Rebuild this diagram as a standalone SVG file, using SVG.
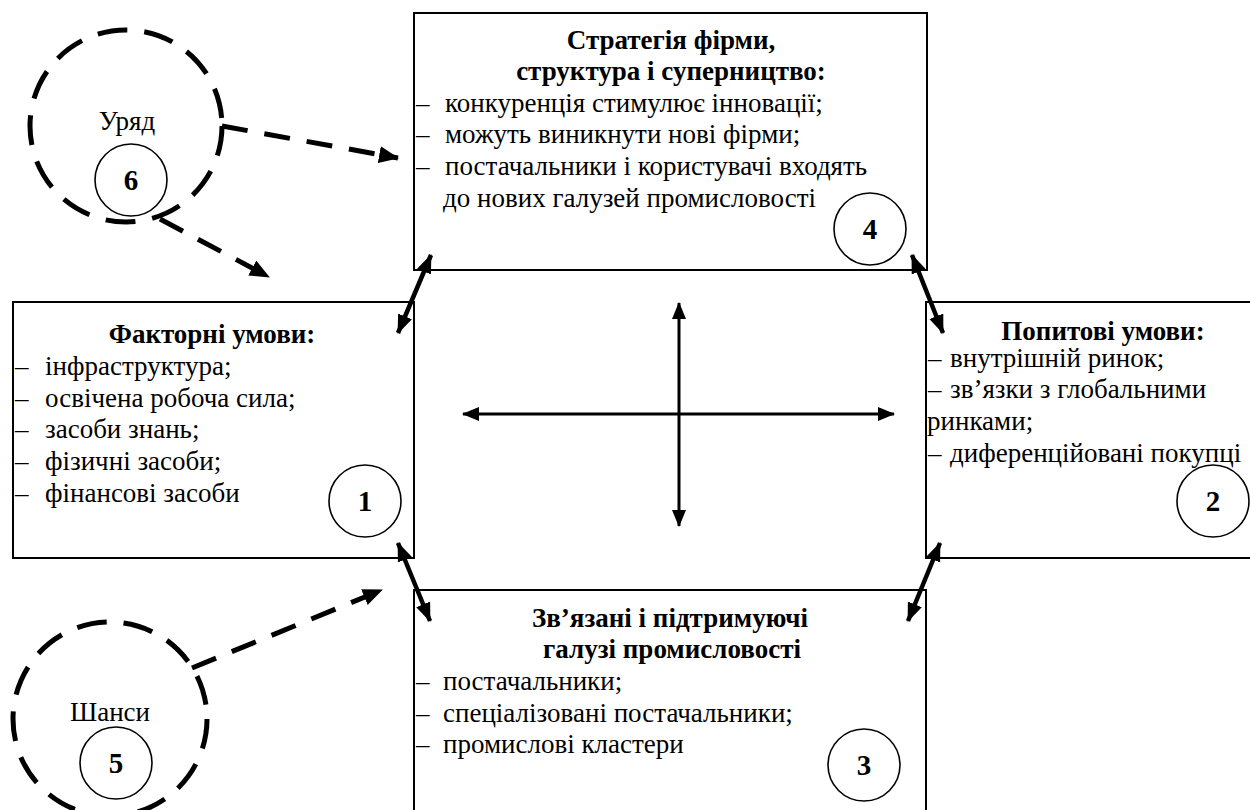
<svg xmlns="http://www.w3.org/2000/svg" width="1250" height="810" viewBox="0 0 1250 810">
<style>
.box{fill:#fff;stroke:#000;stroke-width:2}
.t{font-size:27px;fill:#000}
.b{font-weight:bold}
.m{text-anchor:middle}
.num{font-size:29px;font-weight:bold;text-anchor:middle;fill:#000}
.nc{fill:none;stroke:#000;stroke-width:1.6}
.dc{fill:none;stroke:#000;stroke-width:5;stroke-dasharray:30 17}
.da{fill:none;stroke:#000;stroke-width:5;stroke-dasharray:26 17}
.sa{stroke:#000;stroke-width:4.5;fill:none}
.ca{stroke:#000;stroke-width:3;fill:none}
</style>
<defs>
<marker id="hd" markerUnits="userSpaceOnUse" markerWidth="20" markerHeight="18" refX="19" refY="8.5" orient="auto-start-reverse" viewBox="0 0 20 18"><path d="M0,0 L20,8.5 L0,17 z" fill="#000"/></marker>
<marker id="hs" markerUnits="userSpaceOnUse" markerWidth="19" markerHeight="16" refX="18" refY="7.5" orient="auto-start-reverse" viewBox="0 0 19 16"><path d="M0,0 L19,7.5 L0,15 z" fill="#000"/></marker>
<marker id="hc" markerUnits="userSpaceOnUse" markerWidth="17" markerHeight="15" refX="16" refY="7" orient="auto-start-reverse" viewBox="0 0 17 15"><path d="M0,0 L17,7 L0,14 z" fill="#000"/></marker>
</defs>
<g font-family="Liberation Serif, DejaVu Serif, serif">
<g id="node-strategy">
<rect class="box" x="414" y="13" width="513" height="257"/>
<text class="t b m" x="671" y="49">Стратегія фірми,</text>
<text class="t b m" x="671" y="80">структура і суперництво:</text>
<text class="t" x="416" y="112">–</text><text class="t" x="445" y="112">конкуренція стимулює інновації;</text>
<text class="t" x="416" y="143">–</text><text class="t" x="445" y="143">можуть виникнути нові фірми;</text>
<text class="t" x="416" y="175">–</text><text class="t" x="445" y="175">постачальники і користувачі входять</text>
<text class="t" x="443" y="207">до нових галузей промисловості</text>
<circle class="nc" cx="870" cy="229" r="36"/>
<text class="num" x="870" y="239">4</text>
</g>

<g id="node-factor">
<rect class="box" x="13" y="302" width="401" height="256"/>
<text class="t b m" x="212" y="343">Факторні умови:</text>
<text class="t" x="15" y="375">–</text><text class="t" x="45" y="375">інфраструктура;</text>
<text class="t" x="15" y="407">–</text><text class="t" x="45" y="407">освічена робоча сила;</text>
<text class="t" x="15" y="438">–</text><text class="t" x="45" y="438">засоби знань;</text>
<text class="t" x="15" y="470">–</text><text class="t" x="45" y="470">фізичні засоби;</text>
<text class="t" x="15" y="502">–</text><text class="t" x="45" y="502">фінансові засоби</text>
<circle class="nc" cx="365" cy="501" r="36"/>
<text class="num" x="365" y="511">1</text>
</g>

<g id="node-demand">
<rect class="box" x="926" y="302" width="340" height="256"/>
<text class="t b m" x="1103" y="340">Попитові умови:</text>
<text class="t" x="928" y="367">–</text><text class="t" x="950" y="367">внутрішній ринок;</text>
<text class="t" x="928" y="398">–</text><text class="t" x="950" y="398">зв’язки з глобальними</text>
<text class="t" x="927" y="430">ринками;</text>
<text class="t" x="928" y="462">–</text><text class="t" x="950" y="462">диференційовані покупці</text>
<circle class="nc" cx="1213" cy="501" r="36"/>
<text class="num" x="1213" y="511">2</text>
</g>

<g id="node-related">
<rect class="box" x="414" y="590" width="512" height="240"/>
<text class="t b m" x="670" y="627">Зв’язані і підтримуючі</text>
<text class="t b m" x="672" y="658">галузі промисловості</text>
<text class="t" x="416" y="690">–</text><text class="t" x="443" y="690">постачальники;</text>
<text class="t" x="416" y="722">–</text><text class="t" x="443" y="722">спеціалізовані постачальники;</text>
<text class="t" x="416" y="753">–</text><text class="t" x="443" y="753">промислові кластери</text>
<circle class="nc" cx="864" cy="765" r="36"/>
<text class="num" x="864" y="775">3</text>
</g>

<g id="node-government">
<circle class="dc" cx="126" cy="126" r="96"/>
<text class="t m" x="127" y="130">Уряд</text>
<circle class="nc" cx="131" cy="180" r="36"/>
<text class="num" x="131" y="190">6</text>
</g>

<g id="node-chance">
<circle class="dc" cx="110" cy="719" r="97"/>
<text class="t m" x="110" y="721">Шанси</text>
<circle class="nc" cx="116" cy="763" r="36"/>
<text class="num" x="116" y="773">5</text>
</g>
</g>
<g id="connectors">
<line class="da" x1="222" y1="126" x2="398" y2="158" marker-end="url(#hd)"/>
<line class="da" x1="160" y1="219" x2="269" y2="277" marker-end="url(#hd)"/>
<line class="da" x1="192" y1="668" x2="382" y2="590" marker-end="url(#hd)"/>
<line class="sa" x1="431" y1="255" x2="398" y2="333" marker-start="url(#hs)" marker-end="url(#hs)"/>
<line class="sa" x1="912" y1="255" x2="943" y2="333" marker-start="url(#hs)" marker-end="url(#hs)"/>
<line class="sa" x1="398" y1="543" x2="430" y2="621" marker-start="url(#hs)" marker-end="url(#hs)"/>
<line class="sa" x1="940" y1="543" x2="908" y2="621" marker-start="url(#hs)" marker-end="url(#hs)"/>
<line class="ca" x1="463" y1="414" x2="894" y2="414" marker-start="url(#hc)" marker-end="url(#hc)"/>
<line class="ca" x1="679" y1="303" x2="679" y2="526" marker-start="url(#hc)" marker-end="url(#hc)"/>
</g>
</svg>
